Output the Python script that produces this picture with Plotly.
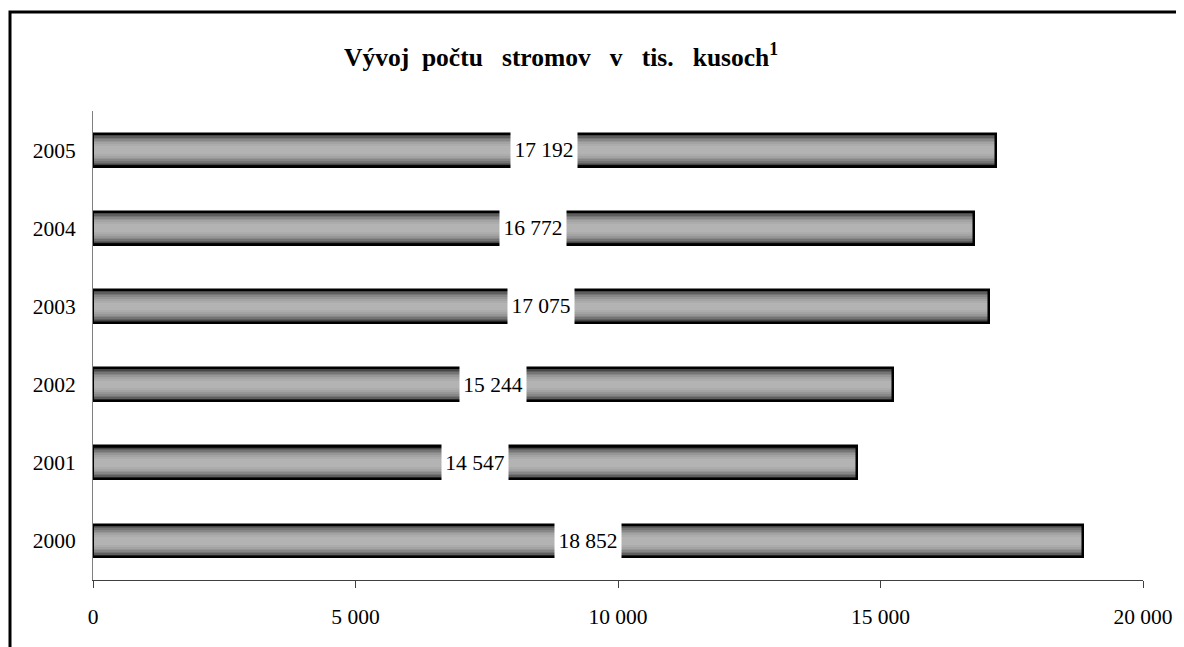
import plotly.graph_objects as go

years = ["2000", "2001", "2002", "2003", "2004", "2005"]
values = [18852, 14547, 15244, 17075, 16772, 17192]
x_ticks = [0, 5000, 10000, 15000, 20000]

OFF = 8  # page body margin
W, H = 1184 - OFF, 647 - OFF
L, T = 93 - OFF, 111 - OFF
R = W - (1143 - OFF)
B = H - (580 - OFF)
pw, ph = W - L - R, H - T - B
FS = 21.5


def px(xp):
    return (xp - 93) / pw


def py(yp):
    return (580 - yp) / ph


fig = go.Figure()

layers = [
    (0.42, "#111111"),
    (0.39, "#464646"),
    (0.36, "#5e5e5e"),
    (0.32, "#747474"),
    (0.28, "#878787"),
    (0.24, "#969696"),
    (0.20, "#a3a3a3"),
    (0.15, "#acacac"),
    (0.10, "#b3b3b3"),
]
for w, c in layers:
    fig.add_trace(go.Bar(y=years, x=values, orientation="h", width=w,
                         marker=dict(color=c, line=dict(width=0)),
                         hoverinfo="skip", showlegend=False))
fig.add_trace(go.Bar(y=years, x=values, orientation="h", width=0.42,
                     marker=dict(color="rgba(0,0,0,0)", line=dict(color="#000000", width=2.5)),
                     hoverinfo="skip", showlegend=False))

for i, v in enumerate(values):
    fig.add_annotation(x=v / 2, y=i, xref="x", yref="y",
                       text=f"{v:,}".replace(",", " "), showarrow=False,
                       bgcolor="white", borderpad=0, width=66, height=40,
                       font=dict(family="Liberation Serif", size=FS, color="black"))

fig.add_annotation(x=px(561), y=py(55), xref="paper", yref="paper",
                   text="<b>Vývoj\u00a0\u00a0počtu\u00a0\u00a0\u00a0stromov\u00a0\u00a0\u00a0v\u00a0\u00a0\u00a0tis.\u00a0\u00a0\u00a0kusoch<sup>1</sup></b>",
                   showarrow=False, xanchor="center", yanchor="middle",
                   font=dict(family="Liberation Serif", size=25.5, color="black"))

fig.add_shape(type="rect", xref="paper", yref="paper",
              x0=px(10), x1=px(1200), y0=py(665), y1=py(12),
              line=dict(color="black", width=3), fillcolor="rgba(0,0,0,0)", layer="above")

fig.update_layout(
    width=W, height=H,
    margin=dict(l=L, r=R, t=T, b=B, pad=0),
    barmode="overlay",
    bargap=0,
    plot_bgcolor="white", paper_bgcolor="white",
    separators=". ",
    font=dict(family="Liberation Serif", size=FS, color="black"),
    xaxis=dict(range=[0, 20000], tickvals=x_ticks, tickformat=",d",
               showgrid=False, zeroline=False, showline=True, linecolor="#404040", linewidth=1,
               ticks="outside", ticklen=7, tickcolor="#404040", tickwidth=1,
               ticklabelstandoff=10, fixedrange=True),
    yaxis=dict(type="category", categoryorder="array", categoryarray=years,
               range=[-0.5, len(years) - 0.5], showgrid=False,
               zeroline=False, showline=True, linecolor="#808080", linewidth=1, ticks="",
               ticklabelstandoff=12, fixedrange=True),
)

fig.write_html("out.html")
